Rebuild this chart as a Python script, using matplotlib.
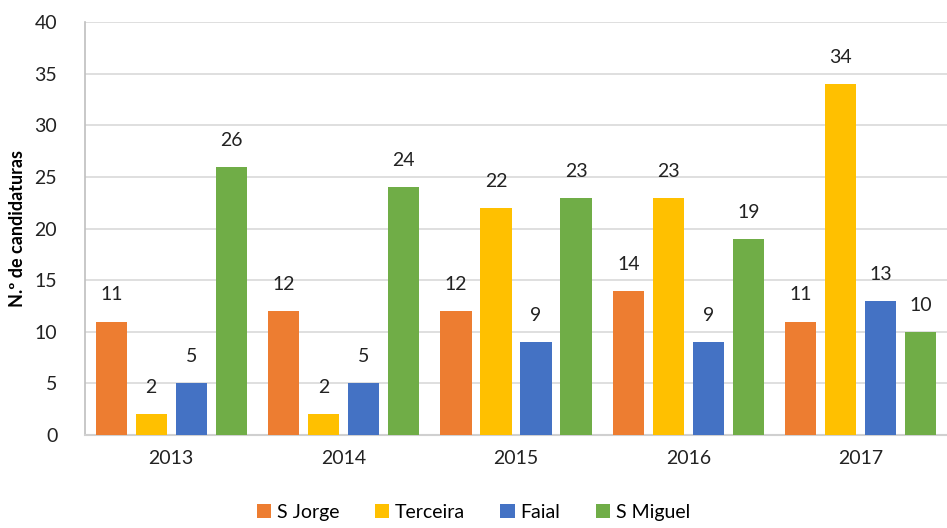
import matplotlib
matplotlib.use("Agg")
import matplotlib.pyplot as plt
import numpy as np

plt.rcParams['font.family'] = ['Lato', 'DejaVu Sans']

years = ['2013', '2014', '2015', '2016', '2017']
series = ['S Jorge', 'Terceira', 'Faial', 'S Miguel']
s_jorge = [11, 12, 12, 14, 11]
terceira = [2, 2, 22, 23, 34]
faial = [5, 5, 9, 9, 13]
s_miguel = [26, 24, 23, 19, 10]
values = [s_jorge, terceira, faial, s_miguel]
colors = ['#ED7D31', '#FFC000', '#4472C4', '#70AD47']

fig = plt.figure(figsize=(9.47, 5.28), dpi=100)
ax = fig.add_axes([0.0898, 0.176, 0.9102, 0.782])

x = np.arange(len(years))
pitch = 0.232
width = 0.182
for i, (name, vals, col) in enumerate(zip(series, values, colors)):
    pos = x + (i - 1.5) * pitch
    bars = ax.bar(pos, vals, width, color=col, label=name, zorder=3)
    for b, v in zip(bars, vals):
        ax.annotate(str(v), (b.get_x() + b.get_width() / 2, v),
                    xytext=(0, 13), textcoords='offset points',
                    ha='center', va='bottom', fontsize=14, color='#222222')

ax.set_xlim(-0.5, len(years) - 0.5)
ax.set_ylim(0, 40)
ax.set_yticks(range(0, 41, 5))
ax.set_xticks(x)
ax.set_xticklabels(years)
ax.tick_params(axis='both', length=0, labelsize=14, colors='#222222')
ax.tick_params(axis='y', pad=20)
ax.tick_params(axis='x', pad=11)
ax.yaxis.grid(True, color='#D9D9D9', linewidth=1.2, zorder=0)
ax.set_axisbelow(True)
for s in ['top', 'right']:
    ax.spines[s].set_visible(False)
ax.spines['left'].set_color('#BFBFBF')
ax.spines['bottom'].set_color('#D0D0D0')
ax.spines['left'].set_linewidth(1.2)
ax.spines['bottom'].set_linewidth(1.5)
ax.set_ylabel('N.º de candidaturas', fontsize=13, fontweight='bold', labelpad=6)

fig.legend(loc='lower center', bbox_to_anchor=(0.5, -0.02), ncol=4, frameon=False,
           fontsize=14, handlelength=0.75, handleheight=0.75, handletextpad=0.3,
           columnspacing=1.8)

fig.savefig('out.png', dpi=100)
